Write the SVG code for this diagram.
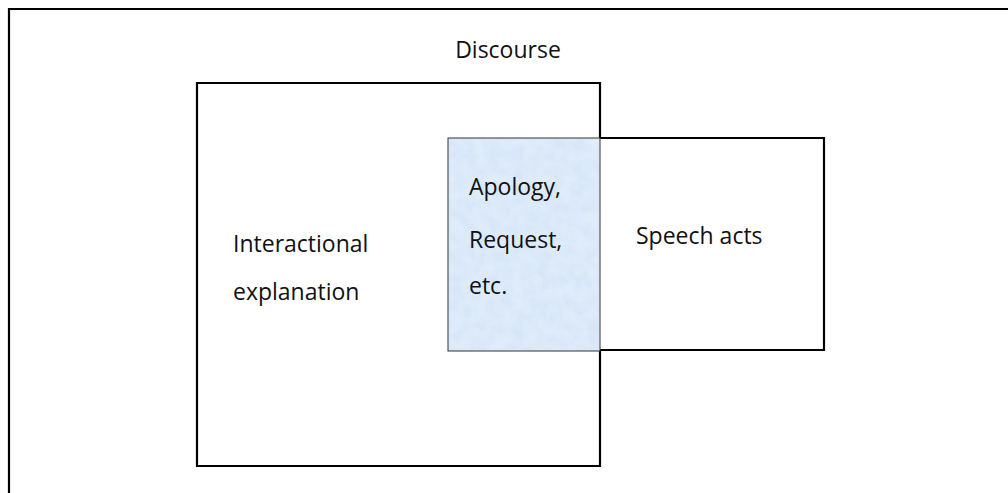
<svg xmlns="http://www.w3.org/2000/svg" width="1008" height="493" viewBox="0 0 1008 493">
<style>
.ln{fill:none;stroke:#000;stroke-width:2.2}
.t{font-family:"Open Sans",Lato,"Liberation Sans",sans-serif;font-size:23px;fill:#111}
</style>
<defs>
<filter id="tex" x="0" y="0" width="100%" height="100%">
<feTurbulence type="fractalNoise" baseFrequency="0.08" numOctaves="3" seed="4" result="n"/>
<feColorMatrix in="n" type="matrix" values="0 0 0 0 0.85  0 0 0 0 0.91  0 0 0 0 0.98  0 0 0 -1.2 1.05" result="c"/>
<feComposite in="c" in2="SourceGraphic" operator="in"/>
</filter>
</defs>
<rect width="1008" height="493" fill="#fff"/>
<g id="discourse">
<path class="ln" d="M9,493 V9 H1008"/>
<text class="t" x="508" y="58" text-anchor="middle">Discourse</text>
</g>
<g id="interactional">
<path class="ln" d="M600,138 V83 H197 V466 H600 V351"/>
<text class="t" x="233" y="252">Interactional</text>
<text class="t" x="233" y="300">explanation</text>
</g>
<g id="speech-acts">
<path class="ln" d="M600,138 H824 V350 H600"/>
<text class="t" x="636" y="244">Speech acts</text>
</g>
<g id="overlap">
<rect x="448" y="138" width="152" height="213" fill="#d5e5f7"/>
<rect x="448" y="138" width="152" height="213" fill="#fff" filter="url(#tex)" opacity="0.6"/>
<rect x="448" y="138" width="152" height="213" fill="none" stroke="#333" stroke-width="1"/>
<text class="t" x="469" y="195">Apology,</text>
<text class="t" x="469" y="248">Request,</text>
<text class="t" x="469" y="294">etc.</text>
</g>
<g id="connectors"/>
</svg>
